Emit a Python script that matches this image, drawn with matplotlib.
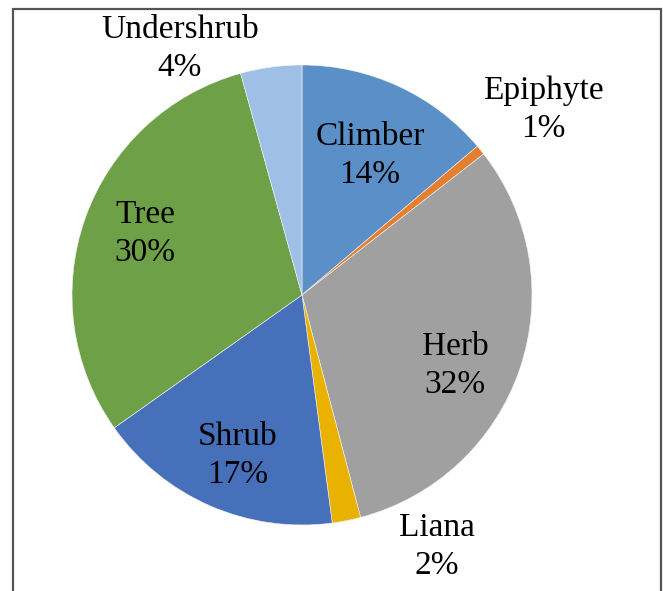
import matplotlib.pyplot as plt
from matplotlib.patches import Rectangle

# habit shares and the percentages printed on the chart
habits = ['Climber', 'Epiphyte', 'Herb', 'Liana', 'Shrub', 'Tree', 'Undershrub']
shares = [13.8, 0.7, 31.4, 2.0, 17.3, 30.5, 4.3]
pct_text = [14, 1, 32, 2, 17, 30, 4]
colors = ['#5b8fc7', '#e67e30', '#a0a0a0', '#eab200', '#4670b9', '#6ea147', '#9fc0e6']

# label centres in pixels (x from left, y from top)
label_pos = [(370, 156), (543, 110), (455, 366), (437, 547),
             (238, 456), (145, 234), (180, 49)]

W, H = 663, 591
fig = plt.figure(figsize=(W / 100, H / 100), dpi=100)
ax = fig.add_axes([0, 0, 1, 1])

ax.pie(shares, colors=colors, startangle=90, counterclock=False,
       center=(302, H - 295), radius=230,
       wedgeprops=dict(edgecolor='#f4f4f4', linewidth=0.4))

for name, pct, (x, y) in zip(habits, pct_text, label_pos):
    ax.text(x, H - y, f'{name}\n{pct}%', ha='center', va='center',
            fontsize=24, family='Liberation Serif', linespacing=1.32)

# chart frame (bottom edge falls outside the image)
ax.add_patch(Rectangle((13, -20), 648, H - 9 + 20, fill=False,
                       edgecolor='#555555', linewidth=1.6))

ax.set_xlim(0, W)
ax.set_ylim(0, H)
ax.set_aspect('equal')
ax.axis('off')

fig.savefig('out.png', dpi=100)
